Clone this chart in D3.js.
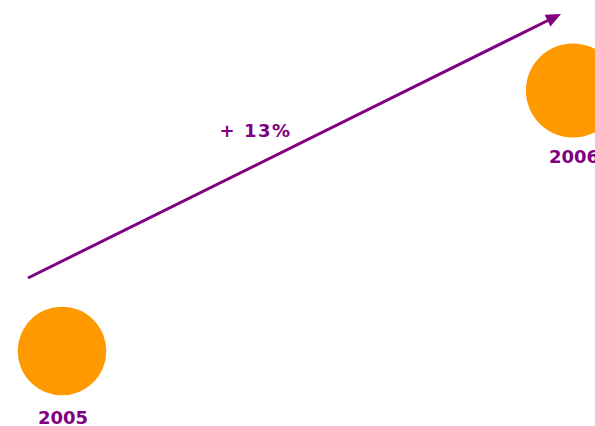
<!DOCTYPE html>
<html><head><meta charset="utf-8">
<script src="https://cdn.jsdelivr.net/npm/d3@7"></script>
<style>html,body{margin:0;padding:0;background:#fff;overflow:hidden}</style>
</head><body>
<svg id="c" width="595" height="426"></svg>
<script>
const years = ["2005", "2006"];
const values = [100, 113];
const changeLabel = "+ 13%";

const svg = d3.select("#c");
const purple = "#800080", orange = "#FF9900";

const x = d3.scalePoint().domain(years).range([62, 573]);
const y = d3.scaleLinear().domain([100, 113]).range([351, 90.5]);
const r = d3.scaleSqrt().domain([0, 113]).range([0, 47.1]);

const data = years.map((yr, i) => ({yr, v: values[i]}));

svg.selectAll("circle.b").data(data).join("circle")
  .attr("class", "b")
  .attr("cx", d => x(d.yr)).attr("cy", d => y(d.v)).attr("r", d => r(d.v))
  .attr("fill", orange);

svg.selectAll("text.yr").data(data).join("text")
  .attr("class", "yr")
  .attr("x", d => x(d.yr) + 1).attr("y", d => y(d.v) + 72.5)
  .attr("text-anchor", "middle")
  .attr("font-family", "DejaVu Sans").attr("font-weight", "bold").attr("font-size", 18)
  .attr("fill", purple).text(d => d.yr);

// arrow
const x0 = x(years[0]) - 34, y0 = y(values[0]) - 73;
const x1 = x(years[1]) - 12, y1 = y(values[1]) - 76.5;
const ang = Math.atan2(y1 - y0, x1 - x0);
const headLen = 15, headHalf = 6.5;
const bx = x1 - headLen * Math.cos(ang), by = y1 - headLen * Math.sin(ang);
svg.append("line").attr("x1", x0).attr("y1", y0).attr("x2", bx + 2 * Math.cos(ang)).attr("y2", by + 2 * Math.sin(ang))
  .attr("stroke", purple).attr("stroke-width", 3);
const px = -Math.sin(ang), py = Math.cos(ang);
svg.append("path")
  .attr("d", `M${x1},${y1} L${bx + headHalf * px},${by + headHalf * py} L${bx - headHalf * px},${by - headHalf * py} Z`)
  .attr("fill", purple);

svg.append("text").attr("x", (x0 + x1) / 2 - 39).attr("y", 136.5)
  .attr("text-anchor", "middle")
  .attr("font-family", "DejaVu Sans").attr("font-weight", "bold").attr("font-size", 18)
  .attr("letter-spacing", 1.5)
  .attr("fill", purple).text(changeLabel);
</script>
</body></html>
